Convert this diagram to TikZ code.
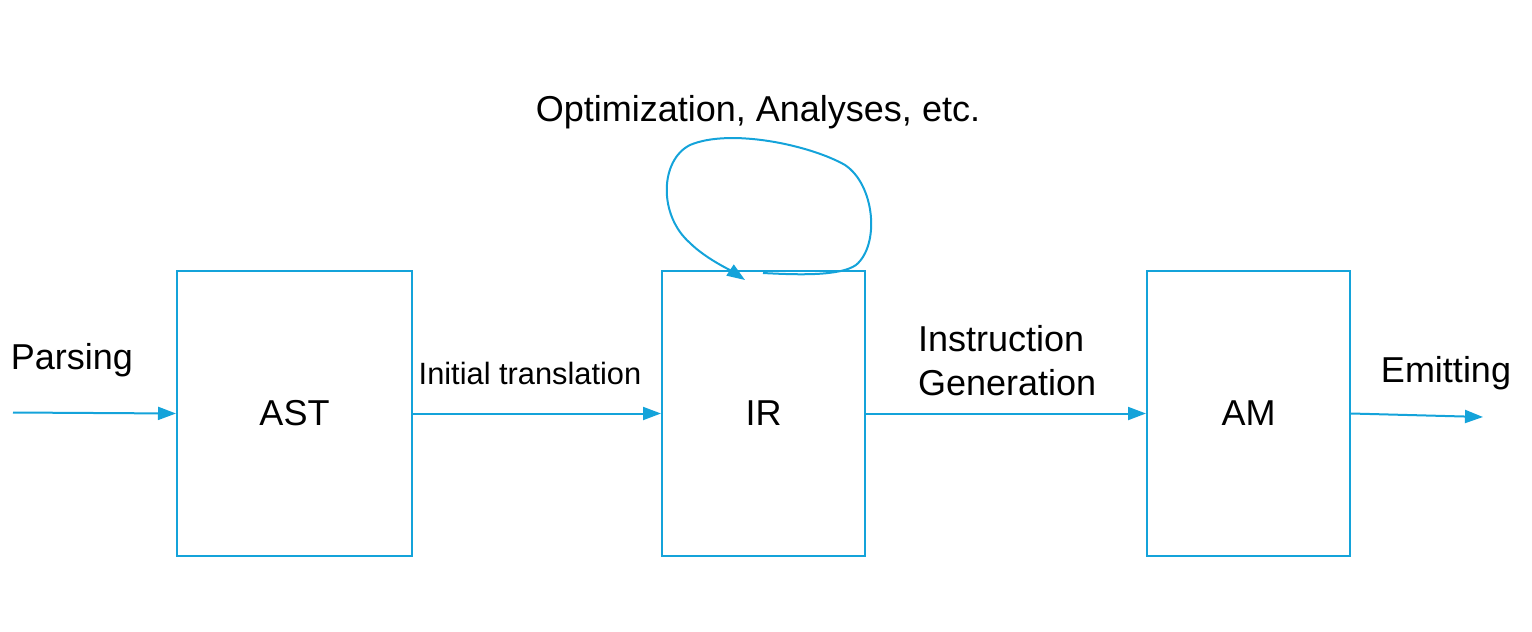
\documentclass[tikz,border=0pt]{standalone}
\usepackage{fontspec}
\setmainfont{Liberation Sans}
\usetikzlibrary{arrows.meta}
\definecolor{flow}{RGB}{20,163,218}
\tikzset{
  blk/.style={draw=flow, line width=1pt, inner sep=0pt, anchor=north west},
  arr/.style={draw=flow, line width=1pt, -{Triangle[length=9pt,width=6.5pt]}},
  big/.style={font=\fontsize{18}{22}\selectfont},
  small/.style={font=\fontsize{15.4}{18}\selectfont},
}
\begin{document}
\begin{tikzpicture}[x=0.5pt,y=-0.5pt]
\useasboundingbox (0,0) rectangle (1532,632);
\node[blk, minimum width=117.5pt, minimum height=142.5pt] (AST) at (176,270) {};
\node[blk, minimum width=101.5pt, minimum height=142.5pt] (IR) at (661,270) {};
\node[blk, minimum width=101.5pt, minimum height=142.5pt] (AM) at (1146,270) {};
\node[big] (tAST) at (AST.center) {AST};
\node[big] (tIR) at (IR.center) {IR};
\node[big] (tAM) at (AM.center) {AM};
\coordinate (in) at (13,412.5);
\coordinate (out) at (1483,417);
\draw[arr] (in) -- (AST.west);
\draw[arr] (AST.east) -- (IR.west);
\draw[arr] (IR.east) -- (AM.west);
\draw[arr] (AM.east) -- (out);
\node[big] (lParse) at (72,360) {Parsing};
\node[small] (lInit) at (530,373) {Initial translation};
\node[big, align=left, anchor=west] (lInstr) at (911,361) {Instruction\\Generation};
\node[big] (lEmit) at (1446,373) {Emitting};
\node[big] (lOpt) at (758,112) {Optimization, Analyses, etc.};
\coordinate (ls) at (763,273);
\coordinate (le) at (745,280);
\draw[arr] (ls) .. controls (800,275) and (840,276) .. (856,265)
  .. controls (880,245) and (875,185) .. (845,165)
  .. controls (810,145) and (730,128) .. (690,145)
  .. controls (660,160) and (658,215) .. (690,243)
  .. controls (705,258) and (730,270) .. (le);
\end{tikzpicture}
\end{document}
